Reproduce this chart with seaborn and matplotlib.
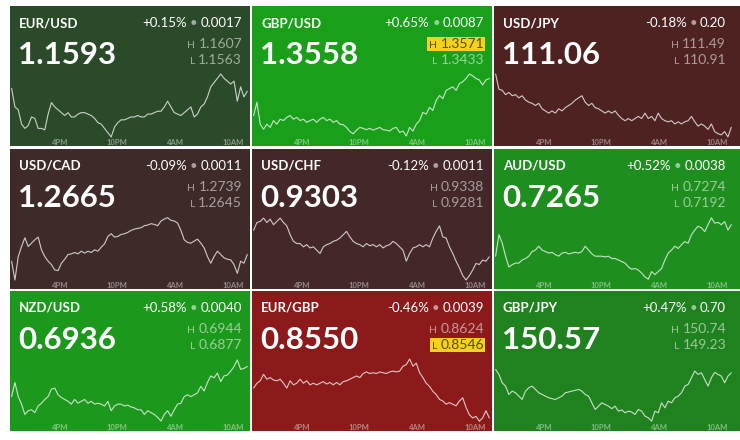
import pandas as pd
import seaborn as sns
import matplotlib.pyplot as plt
from matplotlib.patches import Rectangle

# tile data
pairs = ["EUR/USD", "GBP/USD", "USD/JPY", "USD/CAD", "USD/CHF", "AUD/USD", "NZD/USD", "EUR/GBP", "GBP/JPY"]
last_price = [1.1593, 1.3558, 111.06, 1.2665, 0.9303, 0.7265, 0.6936, 0.8550, 150.57]
decimals = [4, 4, 2, 4, 4, 4, 4, 4, 2]
change_pct = [0.15, 0.65, -0.18, -0.09, -0.12, 0.52, 0.58, -0.46, 0.47]
change_abs = [0.0017, 0.0087, 0.20, 0.0011, 0.0011, 0.0038, 0.0040, 0.0039, 0.70]
day_high = [1.1607, 1.3571, 111.49, 1.2739, 0.9338, 0.7274, 0.6944, 0.8624, 150.74]
day_low = [1.1563, 1.3433, 110.91, 1.2645, 0.9281, 0.7192, 0.6877, 0.8546, 149.23]
new_extreme = ["", "H", "", "", "", "", "", "L", ""]
tile_colors = ["#2a4a2a", "#1a9f1a", "#4f2222", "#3f2a2a", "#432729",
               "#1e8f1e", "#1c981c", "#8c1a1a", "#1f821f"]

# 24h of quotes
times = pd.date_range("2018-06-28 11:00", "2018-06-29 11:30", periods=72)
tick_times = pd.to_datetime(["2018-06-28 16:00", "2018-06-28 22:00",
                             "2018-06-29 04:00", "2018-06-29 10:00"])
tick_labels = ["4PM", "10PM", "4AM", "10AM"]

eur_usd = [1.1597, 1.1584, 1.1582, 1.1572, 1.1569, 1.1571, 1.1577, 1.1576, 1.1569, 1.1569,
           1.1568, 1.1579, 1.1587, 1.1584, 1.1582, 1.1580, 1.1578, 1.1580, 1.1577, 1.1577,
           1.1579, 1.1580, 1.1580, 1.1579, 1.1578, 1.1576, 1.1573, 1.1572, 1.1569, 1.1566,
           1.1563, 1.1570, 1.1573, 1.1575, 1.1575, 1.1576, 1.1577, 1.1577, 1.1578, 1.1577,
           1.1577, 1.1579, 1.1579, 1.1580, 1.1581, 1.1581, 1.1584, 1.1588, 1.1584, 1.1580,
           1.1579, 1.1578, 1.1580, 1.1582, 1.1584, 1.1577, 1.1579, 1.1584, 1.1586, 1.1591,
           1.1598, 1.1601, 1.1604, 1.1607, 1.1604, 1.1602, 1.1600, 1.1602, 1.1588, 1.1598,
           1.1591, 1.1595]
gbp_usd = [1.3480, 1.3509, 1.3461, 1.3450, 1.3461, 1.3454, 1.3469, 1.3461, 1.3472, 1.3469,
           1.3476, 1.3480, 1.3472, 1.3476, 1.3469, 1.3472, 1.3465, 1.3469, 1.3472, 1.3465,
           1.3472, 1.3476, 1.3469, 1.3472, 1.3465, 1.3469, 1.3461, 1.3460, 1.3454, 1.3445,
           1.3440, 1.3448, 1.3454, 1.3452, 1.3449, 1.3452, 1.3448, 1.3451, 1.3454, 1.3449,
           1.3448, 1.3446, 1.3452, 1.3454, 1.3443, 1.3446, 1.3435, 1.3454, 1.3446, 1.3461,
           1.3469, 1.3487, 1.3483, 1.3498, 1.3491, 1.3513, 1.3524, 1.3517, 1.3535, 1.3539,
           1.3543, 1.3535, 1.3550, 1.3554, 1.3561, 1.3571, 1.3567, 1.3561, 1.3558, 1.3547,
           1.3558, 1.3561]
usd_jpy = [111.49, 111.35, 111.34, 111.30, 111.32, 111.29, 111.30, 111.27, 111.29, 111.25,
           111.23, 111.22, 111.20, 111.22, 111.17, 111.15, 111.13, 111.15, 111.13, 111.17,
           111.15, 111.18, 111.20, 111.22, 111.25, 111.27, 111.29, 111.23, 111.20, 111.22,
           111.18, 111.17, 111.15, 111.13, 111.15, 111.13, 111.15, 111.11, 111.08, 111.06,
           111.08, 111.06, 111.08, 111.10, 111.08, 111.13, 111.08, 111.10, 111.06, 111.13,
           111.08, 111.06, 111.05, 111.06, 111.03, 111.05, 111.03, 111.05, 111.06, 111.10,
           111.05, 111.01, 111.03, 111.01, 110.98, 111.03, 110.96, 110.94, 110.93, 110.96,
           110.91, 111.00]
usd_cad = [1.2673, 1.2645, 1.2680, 1.2695, 1.2708, 1.2695, 1.2700, 1.2705, 1.2709, 1.2690,
           1.2680, 1.2673, 1.2668, 1.2660, 1.2659, 1.2670, 1.2676, 1.2683, 1.2684, 1.2686,
           1.2684, 1.2688, 1.2685, 1.2688, 1.2686, 1.2690, 1.2688, 1.2694, 1.2699, 1.2710,
           1.2714, 1.2709, 1.2710, 1.2713, 1.2714, 1.2716, 1.2719, 1.2721, 1.2722, 1.2723,
           1.2726, 1.2727, 1.2729, 1.2728, 1.2726, 1.2733, 1.2736, 1.2738, 1.2734, 1.2733,
           1.2730, 1.2719, 1.2705, 1.2701, 1.2700, 1.2703, 1.2706, 1.2700, 1.2693, 1.2680,
           1.2670, 1.2680, 1.2688, 1.2683, 1.2678, 1.2676, 1.2675, 1.2668, 1.2655, 1.2673,
           1.2670, 1.2683]
usd_chf = [0.9326, 0.9333, 0.9334, 0.9337, 0.9333, 0.9336, 0.9331, 0.9334, 0.9337, 0.9333,
           0.9330, 0.9322, 0.9316, 0.9314, 0.9314, 0.9311, 0.9313, 0.9310, 0.9311, 0.9308,
           0.9305, 0.9311, 0.9313, 0.9314, 0.9316, 0.9317, 0.9319, 0.9322, 0.9325, 0.9320,
           0.9316, 0.9314, 0.9313, 0.9311, 0.9314, 0.9312, 0.9313, 0.9311, 0.9313, 0.9310,
           0.9312, 0.9313, 0.9316, 0.9314, 0.9311, 0.9308, 0.9298, 0.9305, 0.9310, 0.9311,
           0.9313, 0.9311, 0.9313, 0.9311, 0.9319, 0.9325, 0.9330, 0.9320, 0.9319, 0.9311,
           0.9305, 0.9298, 0.9292, 0.9285, 0.9281, 0.9285, 0.9290, 0.9296, 0.9295, 0.9299,
           0.9298, 0.9302]
aud_usd = [0.7223, 0.7251, 0.7240, 0.7223, 0.7209, 0.7212, 0.7214, 0.7214, 0.7218, 0.7220,
           0.7223, 0.7229, 0.7231, 0.7236, 0.7231, 0.7229, 0.7227, 0.7228, 0.7225, 0.7223,
           0.7227, 0.7228, 0.7226, 0.7227, 0.7228, 0.7227, 0.7229, 0.7236, 0.7231, 0.7226,
           0.7223, 0.7223, 0.7223, 0.7222, 0.7223, 0.7220, 0.7220, 0.7218, 0.7216, 0.7214,
           0.7209, 0.7206, 0.7207, 0.7205, 0.7201, 0.7196, 0.7193, 0.7203, 0.7199, 0.7203,
           0.7207, 0.7218, 0.7227, 0.7231, 0.7236, 0.7233, 0.7238, 0.7242, 0.7240, 0.7251,
           0.7257, 0.7262, 0.7260, 0.7255, 0.7264, 0.7273, 0.7266, 0.7267, 0.7264, 0.7268,
           0.7257, 0.7264]
nzd_usd = [0.6904, 0.6919, 0.6904, 0.6896, 0.6885, 0.6889, 0.6890, 0.6887, 0.6894, 0.6897,
           0.6901, 0.6904, 0.6912, 0.6913, 0.6906, 0.6903, 0.6901, 0.6899, 0.6896, 0.6901,
           0.6897, 0.6899, 0.6901, 0.6897, 0.6899, 0.6896, 0.6897, 0.6896, 0.6894, 0.6899,
           0.6889, 0.6894, 0.6896, 0.6896, 0.6894, 0.6895, 0.6893, 0.6892, 0.6890, 0.6890,
           0.6885, 0.6889, 0.6887, 0.6885, 0.6882, 0.6878, 0.6885, 0.6889, 0.6883, 0.6890,
           0.6896, 0.6897, 0.6904, 0.6906, 0.6904, 0.6906, 0.6908, 0.6915, 0.6910, 0.6919,
           0.6926, 0.6924, 0.6929, 0.6920, 0.6926, 0.6927, 0.6931, 0.6936, 0.6943, 0.6933,
           0.6934, 0.6936]
eur_gbp = [0.8588, 0.8594, 0.8597, 0.8605, 0.8599, 0.8601, 0.8598, 0.8597, 0.8599, 0.8594,
           0.8588, 0.8597, 0.8592, 0.8594, 0.8599, 0.8594, 0.8597, 0.8592, 0.8594, 0.8592,
           0.8594, 0.8596, 0.8593, 0.8595, 0.8592, 0.8595, 0.8592, 0.8596, 0.8597, 0.8599,
           0.8601, 0.8603, 0.8601, 0.8606, 0.8608, 0.8606, 0.8607, 0.8606, 0.8608, 0.8607,
           0.8606, 0.8608, 0.8609, 0.8608, 0.8609, 0.8615, 0.8617, 0.8624, 0.8615, 0.8619,
           0.8607, 0.8601, 0.8594, 0.8590, 0.8584, 0.8580, 0.8574, 0.8572, 0.8568, 0.8570,
           0.8568, 0.8566, 0.8572, 0.8576, 0.8564, 0.8555, 0.8551, 0.8553, 0.8547, 0.8551,
           0.8560, 0.8551]
gbp_jpy = [150.49, 150.37, 150.17, 150.09, 149.89, 149.97, 149.93, 149.85, 149.77, 149.97,
           150.05, 150.09, 150.01, 149.93, 149.89, 149.85, 149.81, 149.79, 149.77, 149.81,
           149.85, 149.93, 149.95, 149.97, 149.99, 150.01, 149.97, 149.89, 149.85, 149.69,
           149.53, 149.61, 149.69, 149.65, 149.61, 149.55, 149.61, 149.49, 149.52, 149.45,
           149.49, 149.47, 149.41, 149.53, 149.49, 149.37, 149.33, 149.25, 149.49, 149.45,
           149.69, 149.57, 149.73, 149.69, 149.81, 149.85, 149.93, 150.09, 150.13, 150.29,
           150.45, 150.37, 150.41, 150.25, 150.09, 150.29, 150.42, 150.37, 150.33, 150.17,
           150.33, 150.41]
series = [eur_usd, gbp_usd, usd_jpy, usd_cad, usd_chf, aud_usd, nzd_usd, eur_gbp, gbp_jpy]

sns.set_style("white")
plt.rcParams["font.family"] = ["Lato", "DejaVu Sans"]

W, H = 740, 440
col_x = [10, 252, 494]
col_w = [240, 240, 246]
row_y = [6, 149, 291]
tile_h = 140
inner_w = 240
white = "white"
faded = (1, 1, 1, 0.55)

fig = plt.figure(figsize=(7.4, 4.4), dpi=100)
fig.patch.set_facecolor("white")
renderer = fig.canvas.get_renderer()


def px_axes(x, y, w, h):
    return fig.add_axes([x / W, 1 - (y + h) / H, w / W, h / H])


def right_text(ax, x_right, y, pieces, gap=3):
    # place pieces right-to-left, return left edge
    x = x_right
    for s, kw in reversed(pieces):
        t = ax.text(x, y, s, ha="right", va="baseline", **kw)
        x -= t.get_window_extent(renderer).width + gap
    return x + gap


for i, pair in enumerate(pairs):
    r, c = divmod(i, 3)
    x0, y0 = col_x[c], row_y[r]
    d = decimals[i]

    ax = px_axes(x0, y0, col_w[c], tile_h)
    ax.set_facecolor(tile_colors[i])
    ax.set_xlim(0, col_w[c])
    ax.set_ylim(tile_h, 0)
    ax.set_xticks([])
    ax.set_yticks([])
    sns.despine(ax=ax, left=True, bottom=True)

    ax.text(9, 21, pair, fontsize=9.5, fontweight="bold", color=white, va="baseline")
    ax.text(8, 58, f"{last_price[i]:.{d}f}", fontsize=22.5, fontweight="bold",
            color=white, va="baseline")

    right_text(ax, inner_w - 8, 21, [
        (f"{change_pct[i]:+.2f}%", dict(fontsize=9.5, color=white)),
        ("•", dict(fontsize=9.5, color=faded)),
        (f"{change_abs[i]:.{d}f}", dict(fontsize=9.5, color=white)),
    ], gap=3)

    for tag, val, yb in [("H", day_high[i], 42), ("L", day_low[i], 58)]:
        hit = new_extreme[i] == tag
        col = "#5a4b14" if hit else faded
        left = right_text(ax, inner_w - 8, yb, [
            (tag, dict(fontsize=7.5, color=col)),
            (f"{val:.{d}f}", dict(fontsize=10, color=col)),
        ], gap=3)
        if hit:
            ax.add_patch(Rectangle((left - 2, yb - 11), inner_w - 8 - left + 3, 14,
                                   facecolor="#f3d11d", edgecolor="none", zorder=0.5))

    sax = px_axes(x0, y0 + 68, inner_w, 63)
    sax.patch.set_alpha(0)
    sns.lineplot(x=times, y=series[i], ax=sax, color=white, alpha=0.75,
                 linewidth=0.8, clip_on=False)
    sax.set_ylim(day_low[i], day_high[i])
    sax.set_xlim(times[0] - pd.Timedelta(minutes=10), times[-1] + pd.Timedelta(minutes=17))
    sax.set_xticks(tick_times, labels=tick_labels)
    sax.set_yticks([])
    sax.set_xlabel("")
    sax.set_ylabel("")
    sax.tick_params(axis="x", length=0, pad=1.5, labelsize=5.5, labelcolor=(1, 1, 1, 0.45))
    for lab in sax.get_xticklabels():
        lab.set_fontweight("bold")
    sns.despine(ax=sax, left=True, bottom=True)

fig.savefig("out.png", dpi=100, facecolor="white")
